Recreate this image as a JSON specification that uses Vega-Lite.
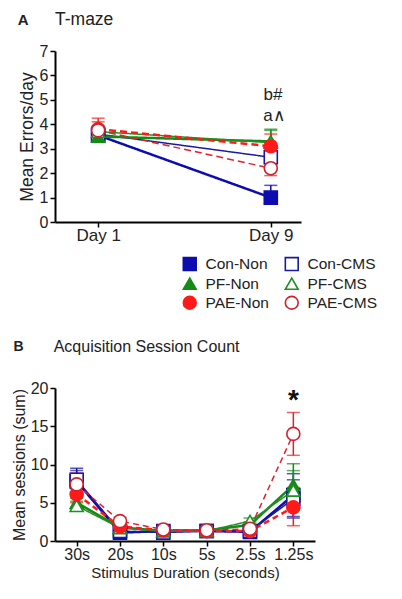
{
  "$schema": "https://vega.github.io/schema/vega-lite/v6.json",
  "padding": {"left": 11, "top": 11, "right": 5, "bottom": 2},
  "background": "white",
  "spacing": 25,
  "resolve": {"legend": {"shape": "independent", "fill": "independent", "stroke": "independent"}},
  "datasets": {
    "A": [
      {"g": "Con-Non", "day": 1, "m": 3.55, "lo": 3.3, "hi": 3.8},
      {"g": "Con-CMS", "day": 1, "m": 3.6, "lo": 3.4, "hi": 3.9},
      {"g": "PF-Non", "day": 1, "m": 3.5, "lo": 3.3, "hi": 3.7},
      {"g": "PF-CMS", "day": 1, "m": 3.7, "lo": 3.5, "hi": 3.95},
      {"g": "PAE-Non", "day": 1, "m": 3.8, "lo": 3.4, "hi": 4.25},
      {"g": "PAE-CMS", "day": 1, "m": 3.75, "lo": 3.4, "hi": 4.1},
      {"g": "Con-Non", "day": 9, "m": 1.0, "lo": 1.0, "hi": 1.5},
      {"g": "Con-CMS", "day": 9, "m": 2.65, "lo": 2.3, "hi": 3.0},
      {"g": "PF-Non", "day": 9, "m": 3.3, "lo": 2.9, "hi": 3.75},
      {"g": "PF-CMS", "day": 9, "m": 3.25, "lo": 2.8, "hi": 3.8},
      {"g": "PAE-Non", "day": 9, "m": 3.1, "lo": 2.7, "hi": 3.6},
      {"g": "PAE-CMS", "day": 9, "m": 2.2, "lo": 1.9, "hi": 2.6}
    ],
    "B": [
      {"g": "Con-Non", "dur": "30s", "m": 7.8, "lo": 6.2, "hi": 9.5},
      {"g": "Con-CMS", "dur": "30s", "m": 8.0, "lo": 6.8, "hi": 9.2},
      {"g": "PF-Non", "dur": "30s", "m": 5.0, "lo": 4.4, "hi": 5.6},
      {"g": "PF-CMS", "dur": "30s", "m": 4.6, "lo": 4.0, "hi": 5.2},
      {"g": "PAE-Non", "dur": "30s", "m": 6.1, "lo": 5.0, "hi": 7.2},
      {"g": "PAE-CMS", "dur": "30s", "m": 7.4, "lo": 6.0, "hi": 8.9},
      {"g": "Con-Non", "dur": "20s", "m": 1.1, "lo": 0.7, "hi": 1.5},
      {"g": "Con-CMS", "dur": "20s", "m": 1.3, "lo": 1.0, "hi": 1.6},
      {"g": "PF-Non", "dur": "20s", "m": 1.8, "lo": 1.5, "hi": 2.1},
      {"g": "PF-CMS", "dur": "20s", "m": 1.7, "lo": 1.4, "hi": 2.0},
      {"g": "PAE-Non", "dur": "20s", "m": 1.9, "lo": 1.5, "hi": 2.3},
      {"g": "PAE-CMS", "dur": "20s", "m": 2.6, "lo": 2.1, "hi": 3.1},
      {"g": "Con-Non", "dur": "10s", "m": 1.3, "lo": 0.7, "hi": 2.0},
      {"g": "Con-CMS", "dur": "10s", "m": 1.1, "lo": 0.8, "hi": 1.4},
      {"g": "PF-Non", "dur": "10s", "m": 1.3, "lo": 1.1, "hi": 1.5},
      {"g": "PF-CMS", "dur": "10s", "m": 1.3, "lo": 1.1, "hi": 1.5},
      {"g": "PAE-Non", "dur": "10s", "m": 1.4, "lo": 1.1, "hi": 1.7},
      {"g": "PAE-CMS", "dur": "10s", "m": 1.5, "lo": 1.2, "hi": 1.8},
      {"g": "Con-Non", "dur": "5s", "m": 1.3, "lo": 0.9, "hi": 1.8},
      {"g": "Con-CMS", "dur": "5s", "m": 1.3, "lo": 1.0, "hi": 1.6},
      {"g": "PF-Non", "dur": "5s", "m": 1.4, "lo": 1.2, "hi": 1.6},
      {"g": "PF-CMS", "dur": "5s", "m": 1.3, "lo": 1.1, "hi": 1.5},
      {"g": "PAE-Non", "dur": "5s", "m": 1.3, "lo": 1.0, "hi": 1.6},
      {"g": "PAE-CMS", "dur": "5s", "m": 1.4, "lo": 1.1, "hi": 1.7},
      {"g": "Con-Non", "dur": "2.5s", "m": 1.2, "lo": 0.7, "hi": 1.7},
      {"g": "Con-CMS", "dur": "2.5s", "m": 1.3, "lo": 1.0, "hi": 1.6},
      {"g": "PF-Non", "dur": "2.5s", "m": 2.1, "lo": 1.7, "hi": 2.5},
      {"g": "PF-CMS", "dur": "2.5s", "m": 2.6, "lo": 2.2, "hi": 3.0},
      {"g": "PAE-Non", "dur": "2.5s", "m": 1.3, "lo": 1.0, "hi": 1.6},
      {"g": "PAE-CMS", "dur": "2.5s", "m": 1.6, "lo": 1.3, "hi": 1.9},
      {"g": "Con-Non", "dur": "1.25s", "m": 6.0, "lo": 3.2, "hi": 8.8},
      {"g": "Con-CMS", "dur": "1.25s", "m": 5.5, "lo": 3.0, "hi": 8.0},
      {"g": "PF-Non", "dur": "1.25s", "m": 7.3, "lo": 4.5, "hi": 10.1},
      {"g": "PF-CMS", "dur": "1.25s", "m": 6.6, "lo": 4.0, "hi": 9.2},
      {"g": "PAE-Non", "dur": "1.25s", "m": 4.4, "lo": 2.0, "hi": 7.0},
      {"g": "PAE-CMS", "dur": "1.25s", "m": 14.0, "lo": 11.2, "hi": 16.8}
    ]
  },
  "vconcat": [
    {
      "width": 246,
      "height": 171,
      "encoding": {
        "x": {"field": "day", "type": "quantitative", "scale": {"domain": [-1, 10.4], "nice": false, "zero": false}, "axis": {"values": [1, 9], "labelExpr": "'Day ' + datum.value", "title": null, "labelFontSize": 17, "labelPadding": 0}},
        "y": {"field": "m", "type": "quantitative", "scale": {"domain": [0, 7], "nice": false}, "axis": {"values": [0, 1, 2, 3, 4, 5, 6, 7], "title": "Mean Errors/day", "titleFontSize": 17.5, "labelFontSize": 16, "labelOverlap": false, "titlePadding": 3}}
      },
      "layer": [
        {
          "data": {"name": "A"},
          "mark": {"type": "line"},
          "encoding": {
            "color": {"field": "g", "type": "nominal", "legend": null, "scale": {"domain": ["Con-Non", "PF-Non", "PAE-Non", "Con-CMS", "PF-CMS", "PAE-CMS"], "range": ["#0c0cb0", "#168a16", "#ff1a1a", "#1a1aa0", "#209020", "#e02030"]}},
            "strokeDash": {"condition": {"test": "indexof(datum.g, 'PAE') === 0", "value": [7, 4]}, "value": [1, 0]},
            "strokeWidth": {"condition": {"test": "indexof(datum.g, 'Non') > 0", "value": 2.5}, "value": 1.5},
            "detail": {"field": "g"}
          }
        },
        {
          "data": {"name": "A"},
          "mark": {"type": "errorbar", "ticks": {"size": 13}, "thickness": 1.5},
          "encoding": {
            "y": {"field": "lo", "type": "quantitative", "title": "Mean Errors/day"},
            "y2": {"field": "hi"},
            "color": {"field": "g", "type": "nominal", "legend": null}
          }
        },
        {
          "data": {"name": "A"},
          "mark": {"type": "point", "size": 170, "strokeWidth": 1.6, "opacity": 1},
          "encoding": {
            "shape": {"field": "g", "type": "nominal", "scale": {"domain": ["Con-Non", "PF-Non", "PAE-Non", "Con-CMS", "PF-CMS", "PAE-CMS"], "range": ["square", "triangle-up", "circle", "square", "triangle-up", "circle"]},
              "legend": {"title": null, "orient": "none", "legendX": 127, "legendY": 205, "columns": 2, "labelFontSize": 15.5, "labelFont": "Liberation Sans", "labelColor": "#222", "symbolSize": 165, "symbolStrokeWidth": 1.6, "rowPadding": 0, "columnPadding": 13, "labelOffset": 8}},
            "fill": {"field": "g", "type": "nominal", "scale": {"domain": ["Con-Non", "PF-Non", "PAE-Non", "Con-CMS", "PF-CMS", "PAE-CMS"], "range": ["#0c0cb0", "#168a16", "#ff1a1a", "#ffffff", "#ffffff", "#ffffff"]},
              "legend": {"title": null, "orient": "none", "legendX": 127, "legendY": 205, "columns": 2, "labelFontSize": 15.5, "labelFont": "Liberation Sans", "labelColor": "#222", "symbolSize": 165, "symbolStrokeWidth": 1.6, "rowPadding": 0, "columnPadding": 13, "labelOffset": 8}},
            "stroke": {"field": "g", "type": "nominal", "scale": {"domain": ["Con-Non", "PF-Non", "PAE-Non", "Con-CMS", "PF-CMS", "PAE-CMS"], "range": ["#0c0cb0", "#168a16", "#ff1a1a", "#1a1aa0", "#209020", "#d02030"]},
              "legend": {"title": null, "orient": "none", "legendX": 127, "legendY": 205, "columns": 2, "labelFontSize": 15.5, "labelFont": "Liberation Sans", "labelColor": "#222", "symbolSize": 165, "symbolStrokeWidth": 1.6, "rowPadding": 0, "columnPadding": 13, "labelOffset": 8}}
          }
        },
        {
          "data": {"values": [{"day": 9.1, "m": 5.2, "t": "b#"}, {"day": 9.15, "m": 4.35, "t": "a∧"}]},
          "mark": {"type": "text", "fontSize": 17, "font": "Liberation Sans", "color": "#222"},
          "encoding": {"text": {"field": "t"}}
        },
        {
          "data": {"values": [{"day": 1, "m": 8.25, "t": "A"}]},
          "mark": {"type": "text", "fontSize": 15, "fontWeight": "bold", "font": "Liberation Sans", "color": "#222", "dx": -75},
          "encoding": {"text": {"field": "t"}}
        },
        {
          "data": {"values": [{"day": -1, "m": 8.25, "t": "T-maze"}]},
          "mark": {"type": "text", "fontSize": 17.5, "font": "Liberation Sans", "color": "#222", "align": "left", "dx": 0},
          "encoding": {"text": {"field": "t"}}
        }
      ]
    },
    {
      "width": 260,
      "height": 153,
      "encoding": {
        "x": {"field": "dur", "type": "ordinal", "scale": {"type": "point", "padding": 0.5, "domain": ["30s", "20s", "10s", "5s", "2.5s", "1.25s"]}, "axis": {"labelAngle": 0, "title": "Stimulus Duration (seconds)", "titleFontSize": 15, "titlePadding": 3, "labelFontSize": 16, "labelPadding": 0}},
        "y": {"field": "m", "type": "quantitative", "scale": {"domain": [0, 20], "nice": false}, "axis": {"values": [0, 5, 10, 15, 20], "title": "Mean sessions (sum)", "titleFontSize": 16, "labelFontSize": 16, "titlePadding": 3}}
      },
      "layer": [
        {
          "data": {"name": "B"},
          "mark": {"type": "line"},
          "encoding": {
            "color": {"field": "g", "type": "nominal", "legend": null},
            "strokeDash": {"condition": {"test": "indexof(datum.g, 'PAE') === 0", "value": [6, 4]}, "value": [1, 0]},
            "strokeWidth": {"condition": {"test": "indexof(datum.g, 'Non') > 0", "value": 2.5}, "value": 1.5},
            "detail": {"field": "g"}
          }
        },
        {
          "data": {"name": "B"},
          "mark": {"type": "errorbar", "ticks": {"size": 13}, "thickness": 1.5},
          "encoding": {
            "y": {"field": "lo", "type": "quantitative", "title": "Mean sessions (sum)"},
            "y2": {"field": "hi"},
            "color": {"field": "g", "type": "nominal", "legend": null}
          }
        },
        {
          "data": {"name": "B"},
          "mark": {"type": "point", "size": 170, "strokeWidth": 1.6, "opacity": 1},
          "encoding": {
            "shape": {"field": "g", "type": "nominal", "legend": null},
            "fill": {"field": "g", "type": "nominal", "legend": null},
            "stroke": {"field": "g", "type": "nominal", "legend": null}
          }
        },
        {
          "data": {"values": [{"dur": "1.25s", "m": 18.3, "t": "*"}]},
          "mark": {"type": "text", "font": "Liberation Sans", "color": "#111", "fontWeight": "bold", "fontSize": 28},
          "encoding": {"text": {"field": "t"}}
        },
        {
          "data": {"values": [{"dur": "30s", "m": 25.4, "t": "B"}]},
          "mark": {"type": "text", "font": "Liberation Sans", "color": "#222", "fontWeight": "bold", "fontSize": 14, "dx": -58},
          "encoding": {"text": {"field": "t"}}
        },
        {
          "data": {"values": [{"dur": "30s", "m": 25.4, "t": "Acquisition Session Count"}]},
          "mark": {"type": "text", "font": "Liberation Sans", "color": "#222", "fontSize": 16, "align": "left", "dx": -23},
          "encoding": {"text": {"field": "t"}}
        }
      ]
    }
  ],
  "config": {
    "view": {"stroke": null},
    "font": "Liberation Sans",
    "axis": {"domainColor": "#000", "domainWidth": 2, "tickColor": "#000", "tickWidth": 1.5, "tickSize": 5, "labelColor": "#222", "labelFont": "Liberation Sans", "titleFont": "Liberation Sans", "titleFontWeight": "normal", "titleColor": "#222", "grid": false, "labelPadding": 2, "titlePadding": 6}
  }
}
